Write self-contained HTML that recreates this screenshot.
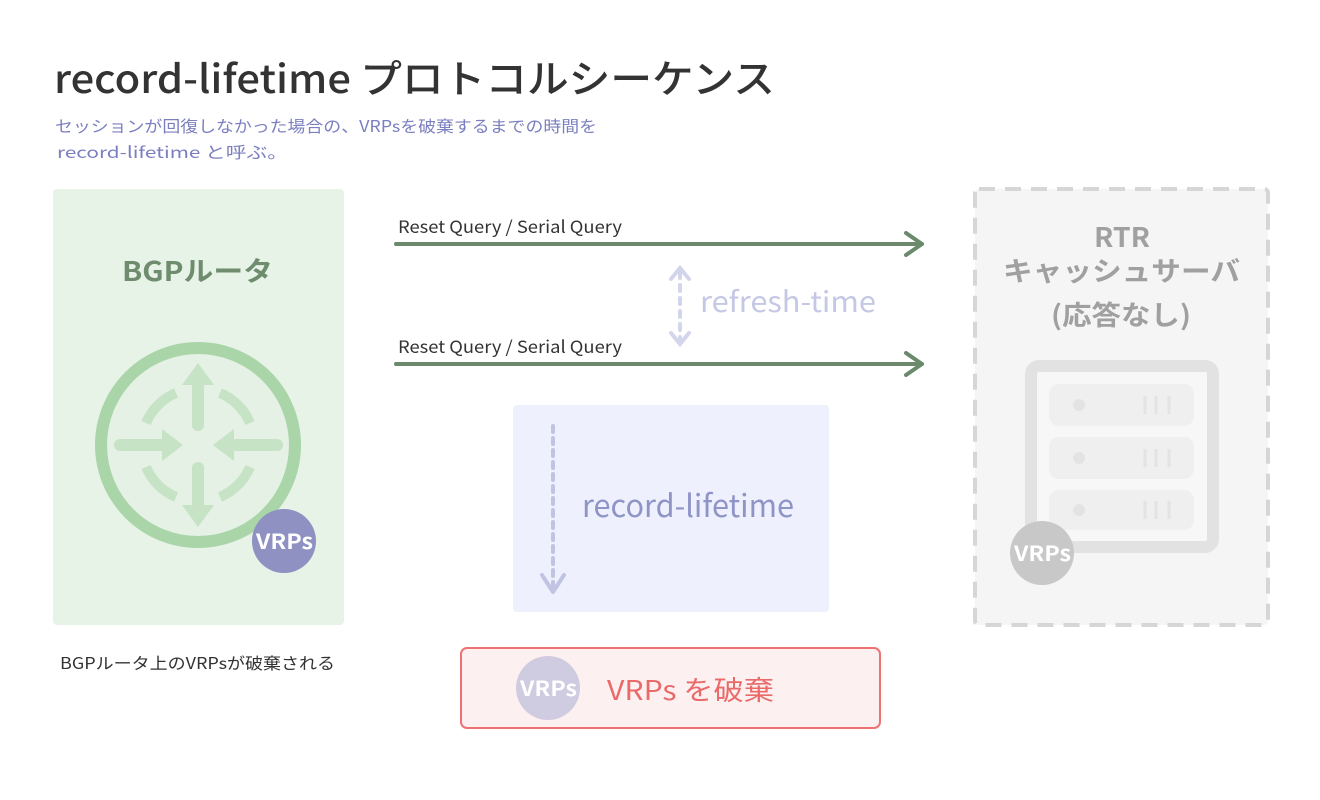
<!DOCTYPE html>
<html><head><meta charset="utf-8"><style>
html,body{margin:0;padding:0;background:#fff;}
svg{display:block;}
text{font-family:"Noto Sans CJK JP","Liberation Sans",sans-serif;}
</style></head><body>
<svg width="1320" height="800" viewBox="0 0 1320 800" xmlns="http://www.w3.org/2000/svg">
<rect width="1320" height="800" fill="#fff"/>
<text x="54" y="93" font-size="39" font-weight="500" fill="#333" textLength="721" lengthAdjust="spacingAndGlyphs">record-lifetime プロトコルシーケンス</text>
<text x="55" y="132" font-size="16" fill="#7b7fc0" textLength="542" lengthAdjust="spacingAndGlyphs">セッションが回復しなかった場合の、VRPsを破棄するまでの時間を</text>
<text x="57" y="158" font-size="16" fill="#7b7fc0" textLength="231" lengthAdjust="spacingAndGlyphs">record-lifetime と呼ぶ。</text>

<rect x="53" y="189" width="291" height="436" rx="4" fill="#e7f3e7"/>
<text x="122" y="281" font-size="27" font-weight="bold" fill="#6f8c6f" textLength="151" lengthAdjust="spacingAndGlyphs">BGPルータ</text>
<circle cx="198" cy="445" r="97" fill="#e4f1e4" stroke="#a9d5a9" stroke-width="12"/>
<g stroke="#c6e3c6" stroke-width="10" fill="none">
<path d="M146 423 A56 56 0 0 1 176 393"/><path d="M220 393 A56 56 0 0 1 250 423"/>
<path d="M250 467 A56 56 0 0 1 220 497"/><path d="M176 497 A56 56 0 0 1 146 467"/>
</g>
<g stroke="#c6e3c6" stroke-width="12" stroke-linecap="round" fill="#c6e3c6">
<line x1="198" y1="425" x2="198" y2="385"/><line x1="198" y1="468" x2="198" y2="505"/>
<line x1="120" y1="445" x2="163" y2="445"/><line x1="236" y1="445" x2="277" y2="445"/>
</g>
<g fill="#c6e3c6">
<polygon points="198,363 214,385 182,385"/><polygon points="198,527 214,505 182,505"/>
<polygon points="183,445 162,429 162,461"/><polygon points="213,445 234,429 234,461"/>
</g>
<circle cx="284" cy="541" r="32" fill="#8e91c2"/>
<text x="256" y="549" font-size="21" font-weight="bold" fill="#fff" textLength="57" lengthAdjust="spacingAndGlyphs">VRPs</text>
<text x="60" y="669" font-size="16" fill="#333" textLength="275" lengthAdjust="spacingAndGlyphs">BGPルータ上のVRPsが破棄される</text>

<text x="398" y="233" font-size="17" fill="#333" textLength="224" lengthAdjust="spacingAndGlyphs">Reset Query / Serial Query</text>
<line x1="396" y1="244" x2="922" y2="244" stroke="#6b8a6b" stroke-width="4" stroke-linecap="round"/>
<polyline points="906,233 922,244 906,255" fill="none" stroke="#6b8a6b" stroke-width="4" stroke-linecap="round" stroke-linejoin="round"/>
<text x="398" y="353" font-size="17" fill="#333" textLength="224" lengthAdjust="spacingAndGlyphs">Reset Query / Serial Query</text>
<line x1="396" y1="364" x2="922" y2="364" stroke="#6b8a6b" stroke-width="4" stroke-linecap="round"/>
<polyline points="906,353 922,364 906,375" fill="none" stroke="#6b8a6b" stroke-width="4" stroke-linecap="round" stroke-linejoin="round"/>

<line x1="680" y1="272" x2="680" y2="340" stroke="#d3d5ec" stroke-width="4" stroke-dasharray="6,7" stroke-linecap="round"/>
<polyline points="671,279 680,268 689,279" fill="none" stroke="#d3d5ec" stroke-width="4" stroke-linecap="round"/>
<polyline points="671,333 680,344 689,333" fill="none" stroke="#d3d5ec" stroke-width="4" stroke-linecap="round"/>
<text x="700" y="312" font-size="29" fill="#c5c8e4" textLength="176" lengthAdjust="spacingAndGlyphs">refresh-time</text>

<rect x="513" y="405" width="316" height="207" rx="4" fill="#eef0fd"/>
<line x1="553" y1="426" x2="553" y2="588" stroke="#c0c4e2" stroke-width="4" stroke-dasharray="6,6" stroke-linecap="round"/>
<polyline points="542,575 553,592 564,575" fill="none" stroke="#c0c4e2" stroke-width="4" stroke-linecap="round" stroke-linejoin="round"/>
<text x="582" y="517" font-size="31" fill="#8f94c6" textLength="212" lengthAdjust="spacingAndGlyphs">record-lifetime</text>

<rect x="461" y="648" width="419" height="80" rx="6" fill="#fdf0f0" stroke="#ef7272" stroke-width="2"/>
<circle cx="548" cy="688" r="32" fill="#cfcbe0"/>
<text x="520" y="696" font-size="21" font-weight="bold" fill="#fff" textLength="57" lengthAdjust="spacingAndGlyphs">VRPs</text>
<text x="607" y="700" font-size="27" fill="#ea6a6a" textLength="167" lengthAdjust="spacingAndGlyphs">VRPs を破棄</text>

<rect x="975" y="189" width="293" height="436" rx="4" fill="#f5f5f5" stroke="#d6d6d6" stroke-width="4" stroke-dasharray="16,10"/>
<text x="1094" y="247" font-size="27" font-weight="bold" fill="#a0a0a0" textLength="56" lengthAdjust="spacingAndGlyphs">RTR</text>
<text x="1003" y="281" font-size="27" font-weight="bold" fill="#a0a0a0" textLength="237" lengthAdjust="spacingAndGlyphs">キャッシュサーバ</text>
<text x="1051" y="325" font-size="27" font-weight="bold" fill="#a0a0a0" textLength="140" lengthAdjust="spacingAndGlyphs">(応答なし)</text>
<rect x="1031" y="366" width="182" height="181" rx="8" fill="#f7f7f7" stroke="#e2e2e2" stroke-width="12"/>
<g fill="#efefef">
<rect x="1049" y="384" width="145" height="42" rx="10"/>
<rect x="1049" y="437" width="145" height="42" rx="10"/>
<rect x="1049" y="490" width="145" height="40" rx="10"/>
</g>
<g fill="#e3e3e3"><circle cx="1079" cy="405" r="6"/><circle cx="1079" cy="458" r="6"/><circle cx="1079" cy="510" r="6"/></g>
<g stroke="#e3e3e3" stroke-width="3">
<line x1="1145" y1="396" x2="1145" y2="414"/><line x1="1156" y1="396" x2="1156" y2="414"/><line x1="1169" y1="396" x2="1169" y2="414"/>
<line x1="1145" y1="449" x2="1145" y2="467"/><line x1="1156" y1="449" x2="1156" y2="467"/><line x1="1169" y1="449" x2="1169" y2="467"/>
<line x1="1145" y1="501" x2="1145" y2="519"/><line x1="1156" y1="501" x2="1156" y2="519"/><line x1="1169" y1="501" x2="1169" y2="519"/>
</g>
<circle cx="1042" cy="553" r="32" fill="#c8c8c8"/>
<text x="1014" y="561" font-size="21" font-weight="bold" fill="#fff" textLength="57" lengthAdjust="spacingAndGlyphs">VRPs</text>
</svg>
</body></html>
